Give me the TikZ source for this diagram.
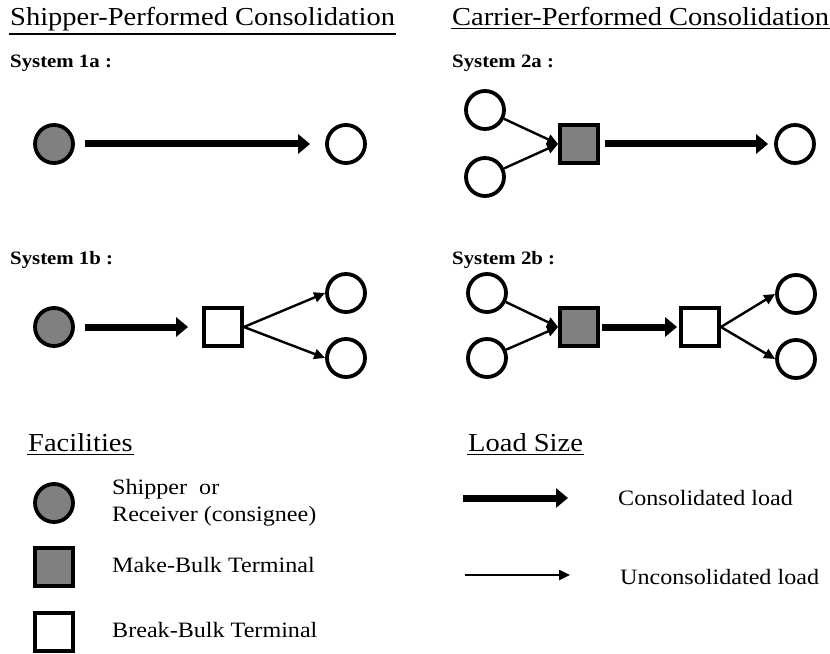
\documentclass[tikz,border=0pt]{standalone}
\usepackage{fontspec}
\setmainfont[FakeStretch=1.1]{Liberation Serif}
\usetikzlibrary{positioning}
\usetikzlibrary{arrows.meta}
\definecolor{midgray}{RGB}{128,128,128}

\begin{document}
\begin{tikzpicture}[x=1bp, y=-1bp, node distance={65bp}, fac/.style={circle, line width=3.8bp, draw, minimum size=38bp, inner sep=0pt}, shp/.style={fac, fill=midgray}, rcv/.style={fac, fill=white}, mk/.style={rectangle, line width=3.8bp, draw, minimum size=38bp, inner sep=0pt, fill=midgray}, bk/.style={mk, fill=white}, big/.style={line width=7bp, -{Triangle[length=12bp,width=19bp]}}, small/.style={line width=2.4bp, -{Triangle[length=11bp,width=10bp]}}, head/.style={font=\fontsize{26}{30}\selectfont, anchor=base west, inner sep=0pt}, ul/.style={line width=1.6bp, shorten <=-1bp, shorten >=-1bp}, sys/.style={font=\fontsize{19}{22}\selectfont\bfseries, anchor=base west, inner sep=0pt}, txt/.style={font=\fontsize{22}{27}\selectfont, anchor=west, inner sep=0pt, align=left}]
      \useasboundingbox (0,0) rectangle (830,654);

      \node[head] (t1) at (10,26) {Shipper-Performed Consolidation};
      \node[head] (t2) at (452,26) {Carrier-Performed Consolidation};
      \draw[ul] ([yshift=-2bp]t1.south west) -- ([yshift=-2bp]t1.south east);
      \draw[ul] ([yshift=-2bp]t2.south west) -- ([yshift=-2bp]t2.south east);
      \node[sys] (l1a) at (10,68) {System 1a :};
      \node[sys] (l2a) at (452,68) {System 2a :};
      \node[sys] (l1b) at (10,264) {System 1b :};
      \node[sys] (l2b) at (452,264) {System 2b :};

      \node[shp] (a1) at (54,144) {};
      \node[rcv] (a2) [right of=a1, node distance=292bp] {};

      \node[rcv] (b1) at (485,110) {};
      \node[rcv] (b2) [below of=b1, node distance=67bp] {};
      \node[mk] (b3) at (579,144) {};
      \node[rcv] (b4) [right of=b3, node distance=216bp] {};

      \node[shp] (c1) at (54,327) {};
      \node[bk] (c2) [right of=c1, node distance=169bp] {};
      \node[rcv] (c3) at (346,293) {};
      \node[rcv] (c4) [below of=c3] {};

      \node[rcv] (d1) at (487,293) {};
      \node[rcv] (d2) [below of=d1] {};
      \node[mk] (d3) at (579,327) {};
      \node[bk] (d4) [right of=d3, node distance=121bp] {};
      \node[rcv] (d5) at (796,294) {};
      \node[rcv] (d6) [below of=d5] {};

      \draw[big, shorten <=10bp, shorten >=15bp] (a1) -- (a2);
      \draw[small] (b1) -- (b3.west);
      \draw[small] (b2) -- (b3.west);
      \draw[big, shorten <=5bp, shorten >=6bp] (b3) -- (b4);
      \draw[big, shorten <=10bp, shorten >=14bp] (c1) -- (c2);
      \draw[small] (c2.east) -- (c3.west);
      \draw[small] (c2.east) -- (c4.west);
      \draw[small] (d1) -- (d3.west);
      \draw[small] (d2) -- (d3.west);
      \draw[big, shorten <=2bp, shorten >=2bp] (d3) -- (d4);
      \draw[small] (d4.east) -- (d5.west);
      \draw[small] (d4.east) -- (d6.west);

      \node[head] (fac) at (28,451) {Facilities};
      \node[head] (ld) at (468,451) {Load Size};
      \draw[ul] ([yshift=-3bp]fac.south west) -- ([yshift=-3bp]fac.south east);
      \draw[ul] ([yshift=-3bp]ld.south west) -- ([yshift=-3bp]ld.south east);
      \node[shp] (k1) at (54,503) {};
      \node[mk] (k2) at (54,567) {};
      \node[bk] (k3) at (54,632) {};
      \node[txt] (n1) at (112,503) {Shipper\ \ or\\Receiver (consignee)};
      \node[txt] (n2) at (112,565) {Make-Bulk Terminal};
      \node[txt] (n3) at (112,630) {Break-Bulk Terminal};

      \coordinate (p1) at (463,498);
      \coordinate (p2) at (568,498);
      \coordinate (q1) at (465,575);
      \coordinate (q2) at (570,575);
      \draw[big] (p1) -- (p2);
      \draw[small] (q1) -- (q2);
      \node[txt] (n4) at (618,498) {Consolidated load};
      \node[txt] (n5) at (620,577) {Unconsolidated load};
    \end{tikzpicture}
\end{document}
